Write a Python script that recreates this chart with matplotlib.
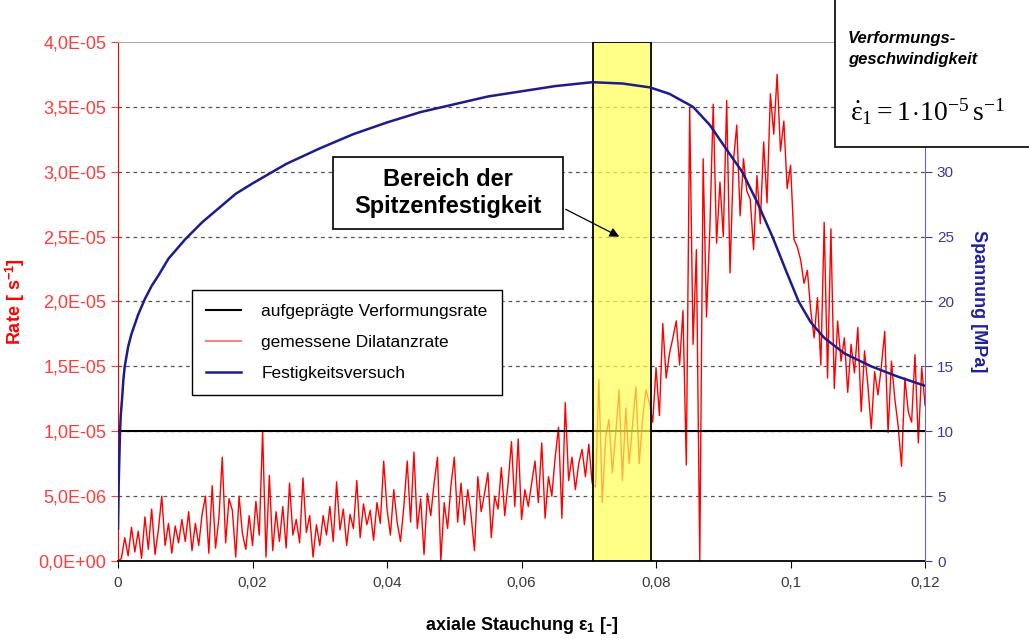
import numpy as np
import matplotlib.pyplot as plt
from matplotlib.patches import Rectangle
from matplotlib.lines import Line2D
from matplotlib.ticker import FuncFormatter

plt.rcParams['font.family'] = ['Liberation Sans', 'DejaVu Sans']
plt.rcParams['mathtext.fontset'] = 'custom'
plt.rcParams['mathtext.rm'] = 'Liberation Serif'
plt.rcParams['mathtext.it'] = 'Liberation Serif'
plt.rcParams['mathtext.bf'] = 'Liberation Sans:bold'

# gemessene Dilatanzrate, 1e-6 1/s, Schrittweite 0,0005
rate_a = [0.0, 0.2, 1.8, 0.4, 2.6, 0.7, 2.3, 0.2, 3.4, 0.9, 4.0, 0.5, 2.4, 5.0, 1.2, 2.9, 0.6, 2.7, 1.4, 3.2,
          1.5, 3.8, 0.8, 2.9, 1.2, 3.6, 5.0, 0.6, 5.8, 1.0, 3.3, 8.0, 1.4, 4.8, 3.9, 0.3, 5.0, 2.1, 0.9, 3.5,
          1.2, 4.6, 2.0, 10.0, 0.3, 6.6, 0.8, 3.8, 1.5, 4.2, 1.0, 6.0, 2.0, 3.2, 1.4, 6.4, 2.2, 3.5, 0.3, 2.8,
          1.2, 3.5, 2.0, 4.2, 1.5, 6.1, 2.4, 4.0, 1.2, 3.6, 2.5, 6.2, 1.8, 4.4, 2.8, 3.9, 1.6, 4.5, 2.9, 7.7]
rate_b = [4.0, 2.0, 5.5, 3.0, 1.5, 4.2, 7.7, 3.0, 8.4, 2.5, 4.8, 0.5, 5.2, 3.5, 6.0, 8.0, 0.0, 4.5, 2.5, 5.8,
          8.0, 3.0, 6.0, 2.8, 5.5, 3.5, 0.8, 6.5, 3.8, 5.2, 6.8, 1.8, 5.0, 4.0, 7.2, 3.5, 6.0, 9.2, 4.2, 9.4,
          3.2, 5.5, 4.2, 6.0, 7.7, 4.5, 9.1, 3.3, 6.5, 5.0, 8.0, 10.3, 3.3, 12.2, 6.2, 8.0, 5.5, 7.5, 8.6, 6.5,
          9.0, 6.0, 5.7, 14.0, 4.5, 9.5, 10.9, 6.8, 9.8, 13.2, 6.2, 11.8, 7.5, 10.5, 13.4, 7.5, 11.0, 13.2, 12.2, 10.7]
rate_c = [14.9, 11.2, 18.3, 14.1, 16.0, 17.2, 18.5, 15.1, 19.3, 7.4, 34.9, 16.7, 24.0, 0.0, 31.0, 18.8, 25.6, 35.2, 24.5, 29.2,
          25.0, 35.5, 22.2, 30.8, 33.6, 26.6, 31.0, 28.5, 27.9, 24.0, 29.7, 26.0, 32.3, 27.6, 36.0, 32.9, 37.5, 31.6, 33.9, 28.7,
          30.5, 24.8, 24.2, 23.2, 21.4, 22.4, 19.3, 17.2, 20.3, 15.1, 26.1, 14.1, 25.6, 13.3, 18.5, 15.4, 17.2, 13.0, 16.7, 14.5,
          18.0, 11.5, 16.2, 13.5, 10.2, 14.6, 12.8, 15.0, 17.7, 9.9, 15.4, 12.5, 10.4, 7.3, 14.1, 11.5, 10.7, 15.9, 9.1, 14.9,
          12.0]
rate = np.array(rate_a + rate_b + rate_c) * 1e-6
strain = np.arange(len(rate)) * 0.0005

# Festigkeitsversuch (Spannung in MPa)
strain_sig = [0, 0.0001, 0.0002, 0.0003, 0.0004, 0.0006, 0.0008, 0.001, 0.0015, 0.002, 0.003, 0.004,
              0.005, 0.006, 0.0075, 0.01, 0.0125, 0.015, 0.0175, 0.02, 0.025, 0.03, 0.035, 0.04,
              0.045, 0.05, 0.055, 0.06, 0.065, 0.0705, 0.075, 0.0791, 0.082, 0.0855, 0.088, 0.0905,
              0.0928, 0.095, 0.0973, 0.0993, 0.1012, 0.103, 0.105, 0.108, 0.112, 0.116, 0.12]
sigma = [2.5, 6.0, 8.0, 10.0, 11.2, 12.5, 14.0, 15.0, 16.5, 17.5, 19.0, 20.2,
         21.2, 22.0, 23.3, 24.8, 26.1, 27.2, 28.3, 29.1, 30.6, 31.8, 32.9, 33.8,
         34.6, 35.2, 35.8, 36.2, 36.6, 36.9, 36.8, 36.5, 36.0, 35.0, 33.6, 31.7,
         30.0, 27.7, 25.0, 22.4, 20.0, 18.4, 17.2, 16.0, 15.0, 14.2, 13.5]

rate_soll = 1e-5
peak_lo, peak_hi = 0.0706, 0.0792

fig = plt.figure(figsize=(10.29, 6.41), dpi=100)
ax = fig.add_axes([0.1147, 0.1248, 0.7843, 0.8097])
ax2 = ax.twinx()

red = '#ff0000'
navy = '#1c1c8a'
ticks_red = '#ff3b3b'
ticks_blue = '#3a3a9a'

ax.set_xlim(0, 0.12)
ax.set_ylim(0, 4e-5)
ax2.set_ylim(0, 40)

for yv in np.arange(5e-6, 4e-5, 5e-6):
    ax.axhline(yv, color='#555555', lw=0.9, ls=(0, (3, 3)), zorder=1)

ax.plot(strain, rate, color=red, lw=1.0, zorder=2)
ax.axhline(rate_soll, color='black', lw=1.5, zorder=3)

# Bereich der Spitzenfestigkeit
ax.add_patch(Rectangle((peak_lo, 0), peak_hi - peak_lo, 4e-5, facecolor='#ffff55',
                       alpha=0.7, edgecolor='none', zorder=4))
ax.add_patch(Rectangle((peak_lo, 0), peak_hi - peak_lo, 4e-5, fill=False,
                       edgecolor='black', lw=1.3, zorder=5))

ax2.plot(strain_sig, sigma, color=navy, lw=1.8)

ax.set_xticks([0, 0.02, 0.04, 0.06, 0.08, 0.1, 0.12])
ax.xaxis.set_major_formatter(FuncFormatter(lambda v, p: ('%g' % round(v, 3)).replace('.', ',')))
ax.set_yticks(np.arange(0, 4.01e-5, 5e-6))
ax.yaxis.set_major_formatter(FuncFormatter(lambda v, p: ('%.1E' % v).replace('.', ',')))
ax2.set_yticks(range(0, 31, 5))

ax.tick_params(axis='y', colors=ticks_red, labelsize=13, length=5, direction='out')
ax.tick_params(axis='x', colors='black', labelcolor='#3a3a3a', labelsize=11, length=5, pad=6)
ax2.tick_params(axis='y', colors=ticks_blue, labelsize=11, length=5, direction='out')

ax.spines['left'].set_color(red)
ax.spines['bottom'].set_color('black')
ax.spines['bottom'].set_linewidth(1.3)
ax.spines['top'].set_color('#aaaaaa')
ax.spines['right'].set_visible(False)
ax2.spines['left'].set_visible(False)
ax2.spines['top'].set_visible(False)
ax2.spines['bottom'].set_visible(False)
ax2.spines['right'].set_color('#6666bb')

ax.set_ylabel('Rate [ s$^{\\mathbf{-1}}$]', color=red, fontsize=13, fontweight='bold', labelpad=8)
ax2.set_ylabel('Spannung [MPa]', color='#2020a0', fontsize=13, fontweight='bold',
               rotation=270, labelpad=24)
ax.set_xlabel('axiale Stauchung ε$_\\mathbf{1}$ [-]', fontsize=13, fontweight='bold', labelpad=18)

handles = [Line2D([], [], color='black', lw=1.5),
           Line2D([], [], color='#ff8080', lw=1.5),
           Line2D([], [], color=navy, lw=1.8)]
labels = ['aufgeprägte Verformungsrate', 'gemessene Dilatanzrate', 'Festigkeitsversuch']
leg = ax.legend(handles, labels, loc='upper left', bbox_to_anchor=(0.0917, 0.522),
                borderaxespad=0, fontsize=12.5, frameon=True, fancybox=False,
                edgecolor='black', framealpha=1, labelspacing=0.9, handlelength=2.0,
                handletextpad=1.2, borderpad=0.8)
leg.get_frame().set_linewidth(1.0)
leg.set_zorder(20)

# Textkasten mit Pfeil
ax.add_patch(Rectangle((0.03197, 25.59e-6), 0.0342, 5.55e-6, facecolor='white',
                       edgecolor='black', lw=1.2, zorder=19))
ax.text(0.0491, 2.836e-5, 'Bereich der\nSpitzenfestigkeit', ha='center', va='center',
        fontsize=17, fontweight='bold', linespacing=1.2, zorder=20)
ax.annotate('', xy=(0.0749, 2.49e-5), xytext=(0.0662, 2.72e-5),
            arrowprops=dict(arrowstyle='-|>', color='black', lw=0.9, mutation_scale=14), zorder=20)

# Kasten mit der Verformungsgeschwindigkeit
fig.add_artist(Rectangle((0.8115, 0.7707), 0.25, 0.3, transform=fig.transFigure,
                         facecolor='white', edgecolor='black', lw=1.2, zorder=10))
fig.text(0.824, 0.952, 'Verformungs-\ngeschwindigkeit', fontsize=12, fontweight='bold',
         fontstyle='italic', va='top', ha='left', linespacing=1.5, zorder=11)
fig.text(0.826, 0.825, r'$\dot{\varepsilon}_1 = 1\!\cdot\!10^{-5}\,\mathrm{s}^{-1}$',
         fontsize=20, va='center', ha='left', zorder=11)

fig.savefig('out.png', dpi=100)
